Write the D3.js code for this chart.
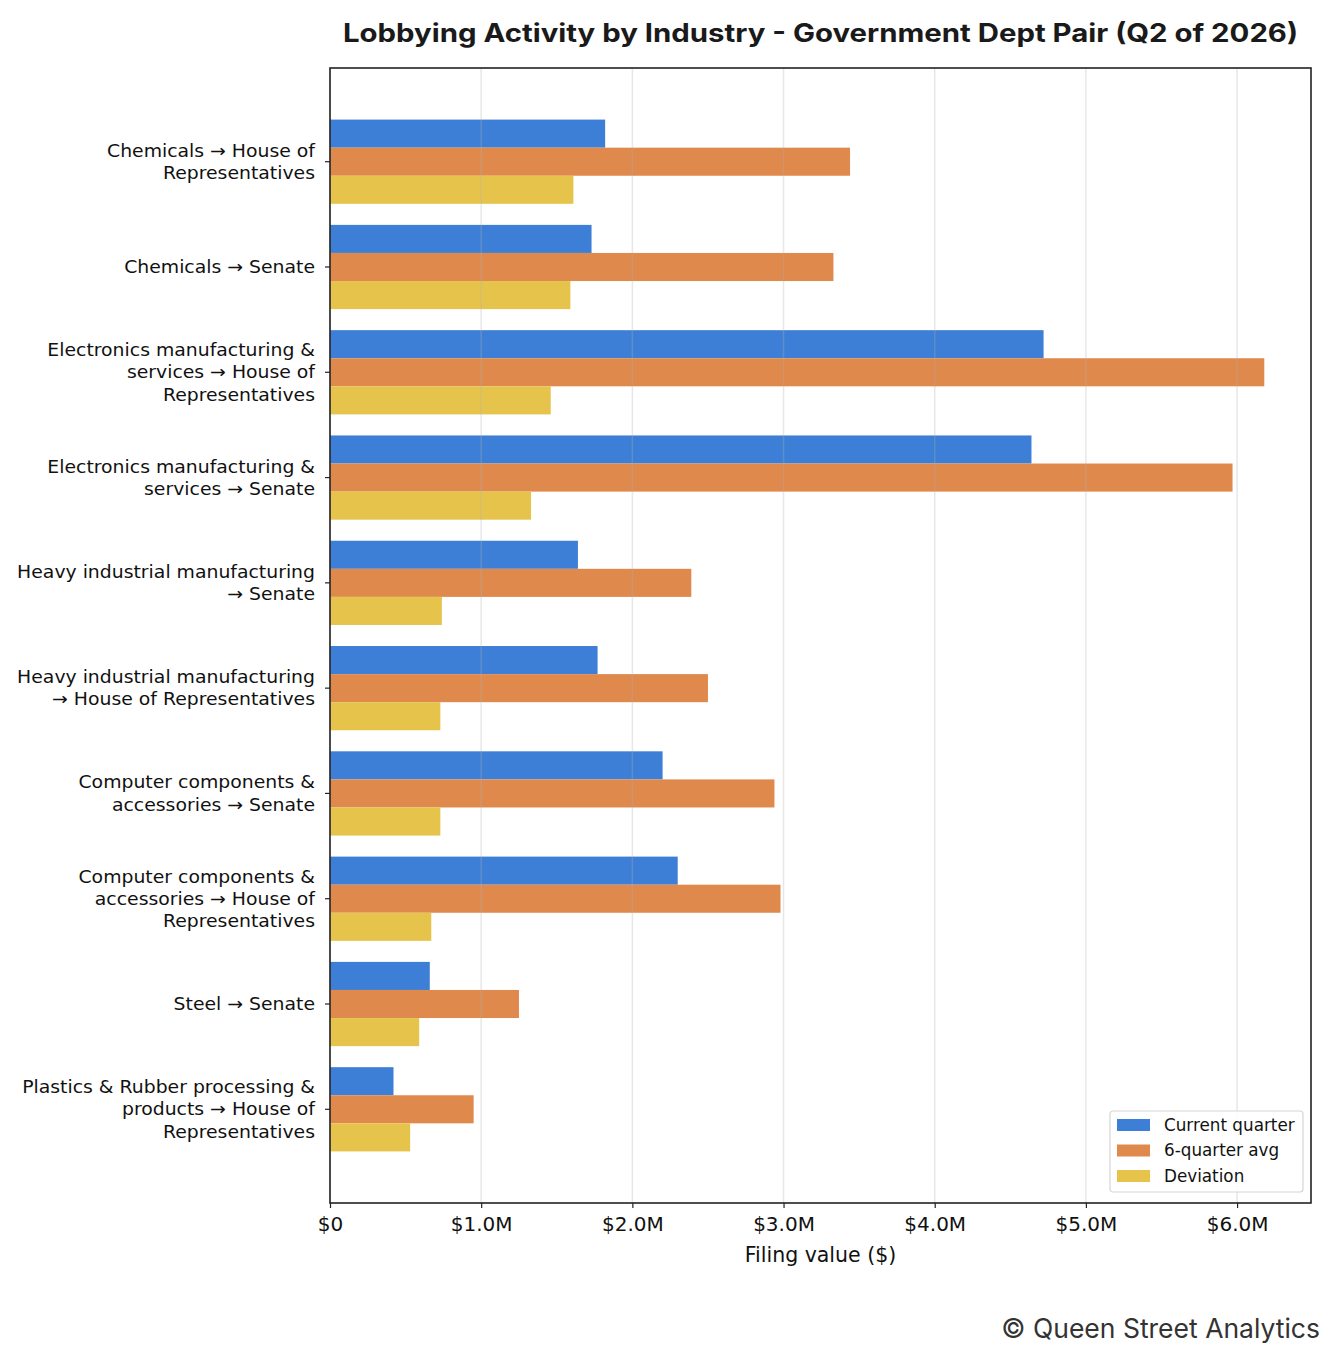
<!DOCTYPE html>
<html>
<head>
<meta charset="utf-8">
<script src="https://cdn.jsdelivr.net/npm/d3@7"></script>
<style>
  body { margin: 0; background: #fff; }
  svg { display: block; }
</style>
</head>
<body>
<div id="chart-area"></div>
<script>
const categories = [
  "Chemicals → House of\nRepresentatives",
  "Chemicals → Senate",
  "Electronics manufacturing &\nservices → House of\nRepresentatives",
  "Electronics manufacturing &\nservices → Senate",
  "Heavy industrial manufacturing\n→ Senate",
  "Heavy industrial manufacturing\n→ House of Representatives",
  "Computer components &\naccessories → Senate",
  "Computer components &\naccessories → House of\nRepresentatives",
  "Steel → Senate",
  "Plastics & Rubber processing &\nproducts → House of\nRepresentatives"
];
// values in $M
const currentQuarter = [1.82, 1.73, 4.72, 4.64, 1.64, 1.77, 2.20, 2.30, 0.66, 0.42];
const sixQuarterAvg  = [3.44, 3.33, 6.18, 5.97, 2.39, 2.50, 2.94, 2.98, 1.25, 0.95];
const deviation      = [1.61, 1.59, 1.46, 1.33, 0.74, 0.73, 0.73, 0.67, 0.59, 0.53];
const seriesNames = ["Current quarter", "6-quarter avg", "Deviation"];
const xTicks = [0, 1, 2, 3, 4, 5, 6];

const colors = ["#3d7fd6", "#e0894d", "#e6c44b"];
const W = 1336, H = 1360;
const MARGIN = { LEFT: 330, RIGHT: 25, TOP: 68, BOTTOM: 157 };
const WIDTH = W - MARGIN.LEFT - MARGIN.RIGHT;
const HEIGHT = H - MARGIN.TOP - MARGIN.BOTTOM;

const series = [currentQuarter, sixQuarterAvg, deviation];
const barH = 0.8 / 3;

const svg = d3.select("#chart-area").append("svg")
  .attr("width", W)
  .attr("height", H);

const g = svg.append("g")
  .attr("transform", `translate(${MARGIN.LEFT}, ${MARGIN.TOP})`);

const maxVal = d3.max(series.flat());
const x = d3.scaleLinear()
  .domain([0, maxVal * 1.05])
  .range([0, WIDTH]);

// matplotlib-like 5% margins on category axis
const lo = -0.4, hi = categories.length - 1 + 0.4;
const pad = (hi - lo) * 0.05;
const y = d3.scaleLinear()
  .domain([lo - pad, hi + pad])
  .range([0, HEIGHT]);

// bars
series.forEach((vals, si) => {
  g.selectAll(".bar-" + si)
    .data(vals)
    .enter()
    .append("rect")
    .attr("class", "bar-" + si)
    .attr("x", x(0))
    .attr("y", (d, i) => y(i + (si - 1) * barH - barH / 2))
    .attr("width", d => x(d) - x(0))
    .attr("height", y(barH) - y(0))
    .attr("fill", colors[si]);
});

// grid lines (on top, faint)
g.selectAll(".grid")
  .data(xTicks)
  .enter()
  .append("line")
  .attr("class", "grid")
  .attr("x1", d => x(d)).attr("x2", d => x(d))
  .attr("y1", 0).attr("y2", HEIGHT)
  .attr("stroke", "#b0b0b0")
  .attr("stroke-opacity", 0.3)
  .attr("stroke-width", 1.5);

// x axis
const xAxisCall = d3.axisBottom(x)
  .tickValues(xTicks)
  .tickSize(5)
  .tickPadding(9)
  .tickFormat(d => d === 0 ? "$0" : `$${d.toFixed(1)}M`);

const xAxis = g.append("g")
  .attr("transform", `translate(0, ${HEIGHT})`)
  .call(xAxisCall);
xAxis.select(".domain").remove();
xAxis.selectAll("line").attr("stroke", "#222").attr("stroke-width", 1.2);
xAxis.selectAll("text")
  .attr("font-family", "DejaVu Sans")
  .attr("font-size", 20)
  .attr("fill", "#111");

// y axis ticks and labels
const yTick = g.selectAll(".ytick")
  .data(categories)
  .enter()
  .append("g")
  .attr("class", "ytick")
  .attr("transform", (d, i) => `translate(0, ${y(i)})`);

yTick.append("line")
  .attr("x1", -5).attr("x2", 0)
  .attr("stroke", "#222").attr("stroke-width", 1.2);

yTick.each(function(d) {
  const lines = d.split("\n");
  const lh = 22.3;
  const t = d3.select(this).append("text")
    .attr("transform", "translate(-15, 0) scale(1.07, 1)")
    .attr("text-anchor", "end")
    .attr("font-family", "DejaVu Sans")
    .attr("font-size", 17.6)
    .attr("fill", "#111");
  lines.forEach((ln, k) => {
    t.append("tspan")
      .attr("x", 0)
      .attr("y", (k - (lines.length - 1) / 2) * lh)
      .attr("dy", "0.35em")
      .text(ln);
  });
});

// frame
g.append("rect")
  .attr("x", 0).attr("y", 0)
  .attr("width", WIDTH).attr("height", HEIGHT)
  .attr("fill", "none")
  .attr("stroke", "#222")
  .attr("stroke-width", 1.6);

// axis label
g.append("text")
  .attr("x", WIDTH / 2)
  .attr("y", HEIGHT + 59)
  .attr("text-anchor", "middle")
  .attr("font-family", "DejaVu Sans")
  .attr("font-size", 20.5)
  .attr("fill", "#111")
  .text("Filing value ($)");

// title
svg.append("text")
  .attr("x", MARGIN.LEFT + WIDTH / 2)
  .attr("y", 42)
  .attr("text-anchor", "middle")
  .attr("font-family", "Inter")
  .attr("font-weight", "bold")
  .attr("font-size", 25.5)
  .attr("textLength", 955)
  .attr("lengthAdjust", "spacingAndGlyphs")
  .attr("fill", "#1a1a1a")
  .text("Lobbying Activity by Industry - Government Dept Pair (Q2 of 2026)");

// legend
const legend = g.append("g")
  .attr("transform", `translate(${WIDTH - 201}, ${HEIGHT - 92})`);
legend.append("rect")
  .attr("width", 193).attr("height", 81)
  .attr("rx", 3)
  .attr("fill", "#fff")
  .attr("fill-opacity", 0.85)
  .attr("stroke", "#d5d5d5")
  .attr("stroke-width", 1.2);
seriesNames.forEach((name, i) => {
  const row = legend.append("g")
    .attr("transform", `translate(7, ${14 + i * 25.5})`);
  row.append("rect")
    .attr("x", 0).attr("y", -6)
    .attr("width", 33).attr("height", 12)
    .attr("fill", colors[i]);
  row.append("text")
    .attr("x", 47)
    .attr("dy", "0.35em")
    .attr("font-family", "DejaVu Sans")
    .attr("font-size", 16.8)
    .attr("fill", "#111")
    .text(name);
});

// footer
svg.append("text")
  .attr("x", 1320)
  .attr("y", 1338)
  .attr("text-anchor", "end")
  .attr("font-family", "Inter")
  .attr("font-size", 26.5)
  .attr("fill", "#333")
  .text("© Queen Street Analytics");
</script>
</body>
</html>
